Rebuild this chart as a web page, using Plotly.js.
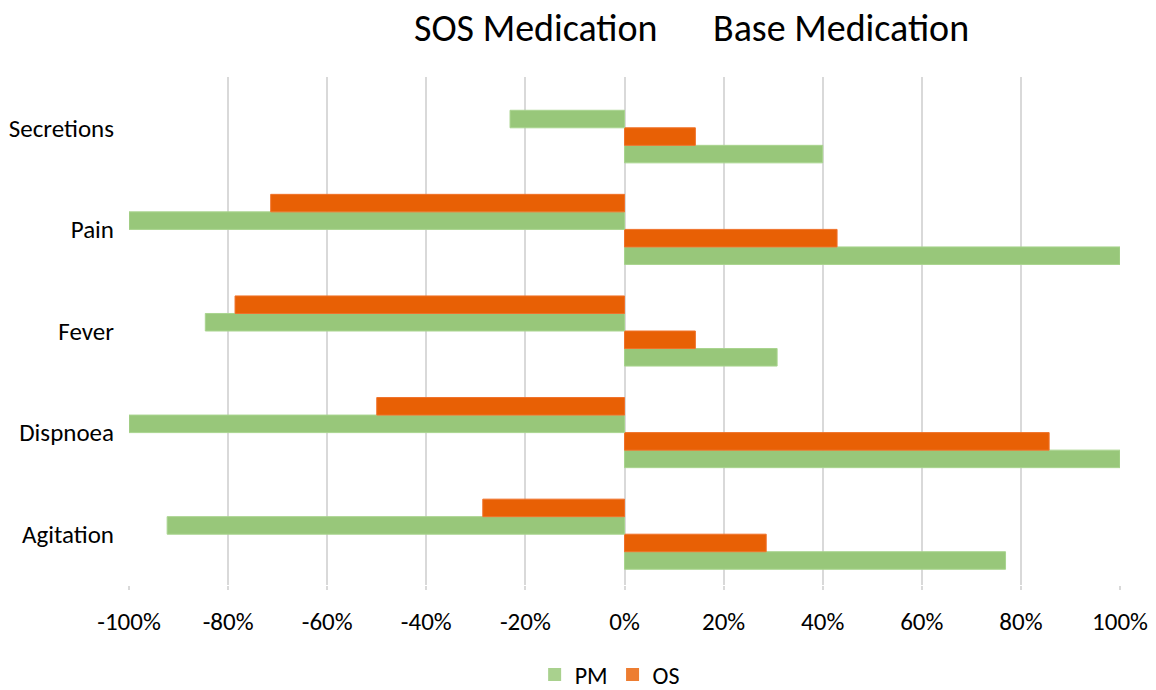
<!DOCTYPE html>
<html>
<head>
<meta charset="utf-8">
<script src="https://cdn.plot.ly/plotly-3.0.1.min.js"></script>
<style>
html,body{margin:0;padding:0;background:#fff;}
#chart{width:1156px;height:690px;}
</style>
</head>
<body>
<div id="chart"></div>
<script>
const categories = ['Agitation', 'Dispnoea', 'Fever', 'Pain', 'Secretions'];
const sosPM = [-92.3, -100, -84.6, -100, -23.1];
const sosOS = [-28.6, -50, -78.6, -71.4, null];
const basePM = [76.9, 100, 30.8, 100, 40];
const baseOS = [28.6, 85.7, 14.3, 42.9, 14.3];
const xTickVals = [-100, -80, -60, -40, -20, 0, 20, 40, 60, 80, 100];
const xTickLabels = ['-100%', '-80%', '-60%', '-40%', '-20%', '0%', '20%', '40%', '60%', '80%', '100%'];
const legendNames = ['PM', 'OS'];
const titleLeft = 'SOS Medication';
const titleRight = 'Base Medication';

const green = '#98c77a';
const greenLine = '#a9d48f';
const orange = '#e86005';
const orangeLine = '#f0722a';
const legendGreen = '#a9d18e';
const legendOrange = '#ed7d31';
const FONT = 'Carlito, Lato, "Liberation Sans", sans-serif';

function tr(name, vals, color, lineColor) {
  return {
    type: 'bar', orientation: 'h', name: name, x: vals, y: categories,
    marker: {color: color, line: {color: lineColor, width: 1}},
    legendgroup: name, showlegend: false, hoverinfo: 'x+y+name'
  };
}
function legendItem(name, color) {
  return {
    type: 'scatter', mode: 'markers', name: name, x: [null], y: [null],
    marker: {symbol: 'square', size: 13, color: color},
    legendgroup: name, showlegend: true, hoverinfo: 'skip'
  };
}

const data = [
  tr('PM', basePM, green, greenLine),
  tr('OS', baseOS, orange, orangeLine),
  tr('PM', sosPM, green, greenLine),
  tr('OS', sosOS, orange, orangeLine),
  legendItem(legendNames[0], legendGreen),
  legendItem(legendNames[1], legendOrange)
];

const layout = {
  width: 1156, height: 690,
  margin: {l: 129, r: 36, t: 77, b: 105},
  paper_bgcolor: '#fff', plot_bgcolor: '#fff',
  font: {family: FONT, size: 25, color: '#000'},
  barmode: 'group', bargap: 0.31, bargroupgap: 0,
  showlegend: true,
  legend: {orientation: 'h', xref: 'paper', x: 0.485, xanchor: 'center',
           yref: 'container', y: 15 / 690, yanchor: 'middle',
           font: {size: 24, color: '#000'}, itemwidth: 30, traceorder: 'normal'},
  xaxis: {
    range: [-100, 100], tickvals: xTickVals, ticktext: xTickLabels,
    showgrid: true, gridcolor: '#d9d9d9', gridwidth: 2,
    zeroline: false, showline: false,
    ticks: 'outside', ticklen: 4, tickwidth: 2, tickcolor: '#d9d9d9',
    ticklabelstandoff: 10,
    tickfont: {size: 25, color: '#000'}, fixedrange: true
  },
  yaxis: {
    showgrid: false, zeroline: false, showline: false,
    ticks: '', ticklabelstandoff: 14,
    tickfont: {size: 25, color: '#000'}, fixedrange: true
  },
  annotations: [
    {text: titleLeft, xref: 'paper', yref: 'paper', x: (536 - 129) / 991, y: 1 + (77 - 28) / 508,
     xanchor: 'center', yanchor: 'middle', showarrow: false, font: {size: 38, color: '#000'}},
    {text: titleRight, xref: 'paper', yref: 'paper', x: (841 - 129) / 991, y: 1 + (77 - 28) / 508,
     xanchor: 'center', yanchor: 'middle', showarrow: false, font: {size: 38, color: '#000'}}
  ]
};

Plotly.newPlot('chart', data, layout, {displayModeBar: false, staticPlot: true});
</script>
</body>
</html>
